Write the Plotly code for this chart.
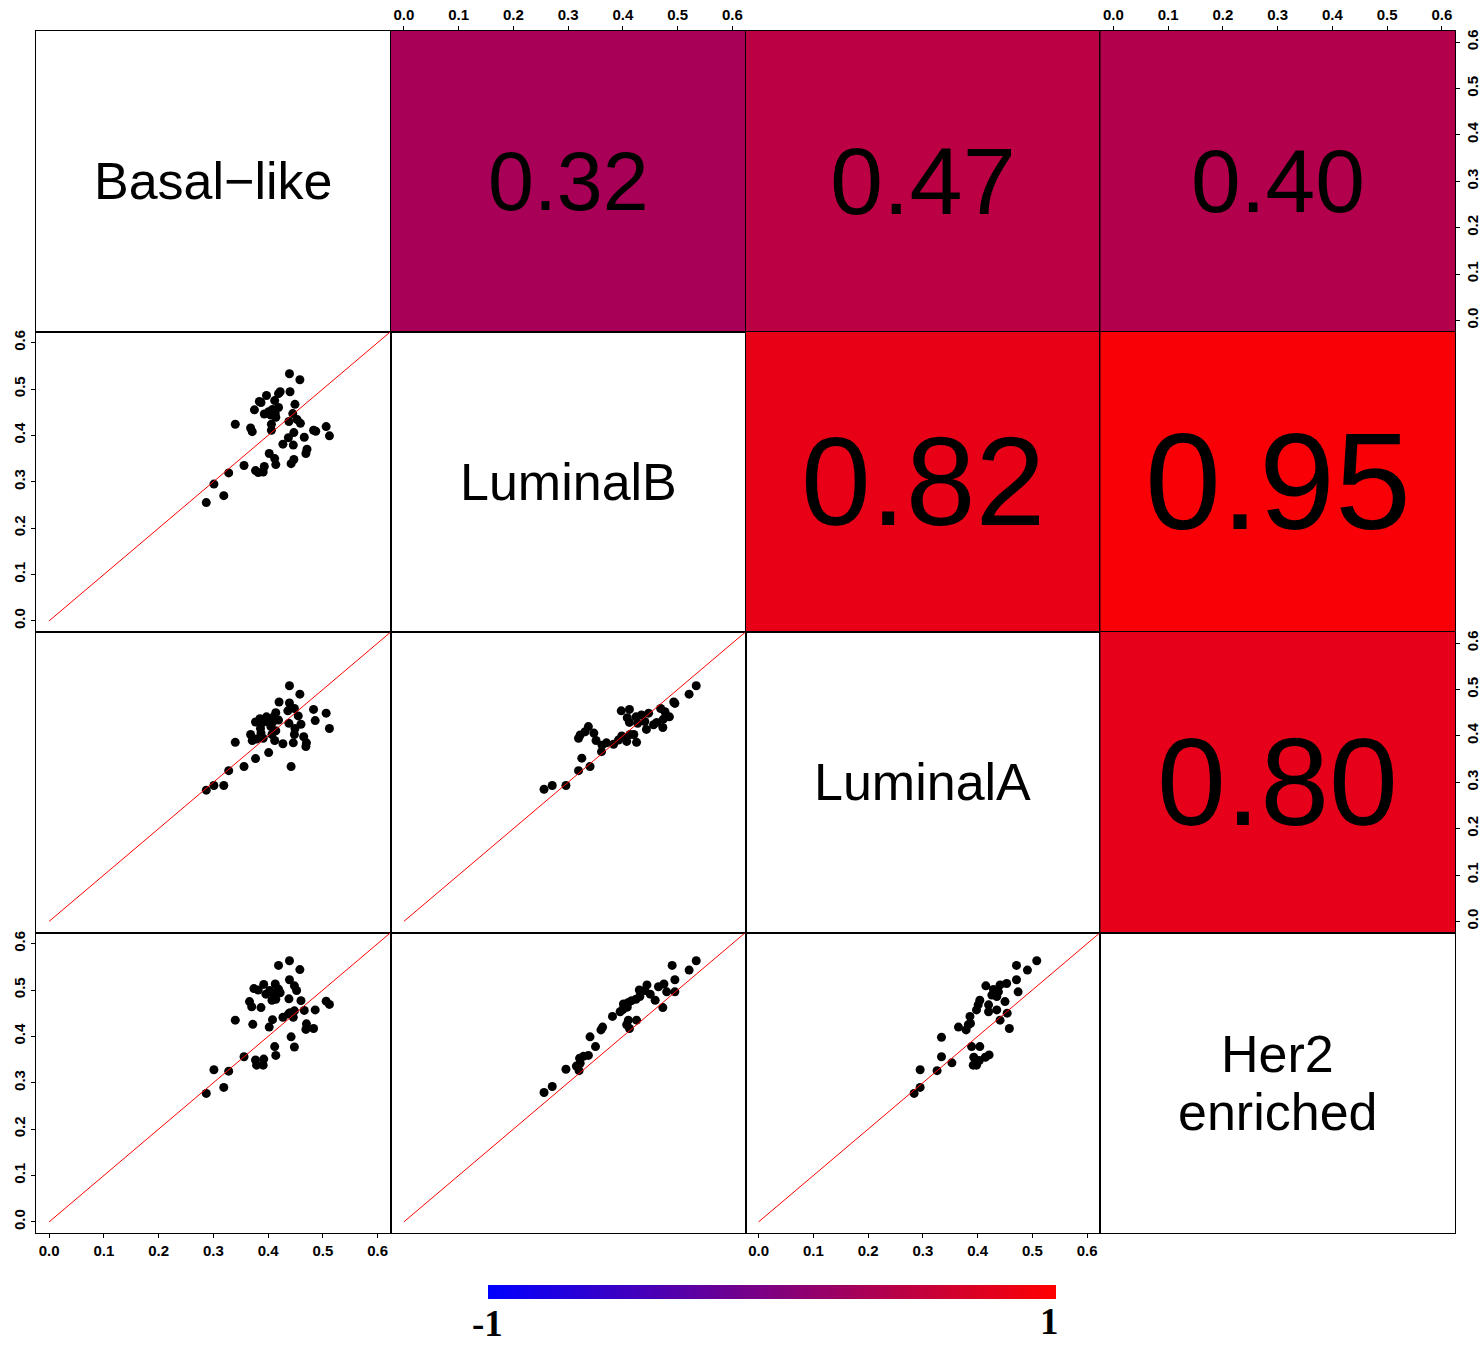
import plotly.graph_objects as go
from plotly.subplots import make_subplots

# ---- data ---------------------------------------------------------------
subtypes = ["Basal\u2212like", "LuminalB", "LuminalA", "Her2\nenriched"]

# Pearson correlations shown in the upper triangle (row, col)
cor_pairs = [(0, 1), (0, 2), (0, 3), (1, 2), (1, 3), (2, 3)]
cor_values = [0.32, 0.47, 0.40, 0.82, 0.95, 0.80]

tick_values = [0.0, 0.1, 0.2, 0.3, 0.4, 0.5, 0.6]
tick_labels = ["0.0", "0.1", "0.2", "0.3", "0.4", "0.5", "0.6"]
color_limits = [-1, 1]
color_labels = ["-1", "1"]

# LuminalB (y) against Basal-like (x)
lumB_vs_basal_x = [0.439, 0.458, 0.397, 0.422, 0.440, 0.419, 0.384, 0.387, 0.412, 0.449,
                   0.375, 0.393, 0.401, 0.408, 0.419, 0.413, 0.414, 0.445, 0.405, 0.340,
                   0.406, 0.438, 0.453, 0.459, 0.368, 0.371, 0.406, 0.506, 0.483, 0.487,
                   0.512, 0.447, 0.466, 0.437, 0.427, 0.446, 0.471, 0.469, 0.402, 0.412,
                   0.414, 0.442, 0.447, 0.356, 0.377, 0.393, 0.382, 0.391, 0.328, 0.301,
                   0.319, 0.287]
lumB_vs_basal_y = [0.533, 0.520, 0.486, 0.494, 0.494, 0.490, 0.473, 0.471, 0.475, 0.467,
                   0.455, 0.446, 0.451, 0.456, 0.460, 0.447, 0.439, 0.447, 0.444, 0.424,
                   0.424, 0.430, 0.434, 0.426, 0.416, 0.408, 0.411, 0.419, 0.411, 0.409,
                   0.399, 0.406, 0.396, 0.395, 0.381, 0.379, 0.370, 0.361, 0.361, 0.350,
                   0.337, 0.339, 0.348, 0.335, 0.324, 0.333, 0.320, 0.321, 0.319, 0.295,
                   0.270, 0.255]

# LuminalA (y) against Basal-like (x)
lumA_vs_basal_x = [0.439, 0.458, 0.420, 0.439, 0.448, 0.436, 0.414, 0.410, 0.397, 0.385,
                   0.377, 0.388, 0.396, 0.408, 0.419, 0.455, 0.483, 0.506, 0.486, 0.512,
                   0.438, 0.460, 0.449, 0.386, 0.405, 0.414, 0.407, 0.368, 0.371, 0.379,
                   0.391, 0.387, 0.340, 0.412, 0.427, 0.446, 0.465, 0.470, 0.469, 0.448,
                   0.401, 0.377, 0.356, 0.442, 0.328, 0.319, 0.301, 0.287]
lumA_vs_basal_y = [0.508, 0.490, 0.473, 0.471, 0.459, 0.454, 0.450, 0.441, 0.441, 0.437,
                   0.430, 0.427, 0.431, 0.429, 0.434, 0.443, 0.457, 0.449, 0.433, 0.416,
                   0.427, 0.425, 0.416, 0.416, 0.420, 0.411, 0.403, 0.403, 0.390, 0.393,
                   0.395, 0.406, 0.386, 0.390, 0.383, 0.385, 0.398, 0.385, 0.377, 0.403,
                   0.364, 0.351, 0.334, 0.334, 0.325, 0.293, 0.293, 0.283]

# LuminalA (y) against LuminalB (x)
lumA_vs_lumB_x = [0.534, 0.521, 0.493, 0.495, 0.397, 0.412, 0.469, 0.477, 0.447, 0.434,
                  0.424, 0.408, 0.485, 0.474, 0.440, 0.427, 0.412, 0.462, 0.456, 0.473,
                  0.443, 0.337, 0.331, 0.322, 0.319, 0.347, 0.351, 0.398, 0.413, 0.420,
                  0.407, 0.425, 0.392, 0.362, 0.370, 0.383, 0.361, 0.325, 0.340, 0.319,
                  0.296, 0.271, 0.256]
lumA_vs_lumB_y = [0.508, 0.490, 0.473, 0.470, 0.454, 0.457, 0.459, 0.452, 0.449, 0.445,
                  0.441, 0.439, 0.441, 0.436, 0.431, 0.427, 0.429, 0.429, 0.424, 0.418,
                  0.414, 0.420, 0.409, 0.402, 0.395, 0.406, 0.390, 0.400, 0.403, 0.403,
                  0.388, 0.386, 0.391, 0.380, 0.385, 0.382, 0.366, 0.352, 0.334, 0.325,
                  0.293, 0.293, 0.285]

# Her2 enriched (y) against Basal-like (x)
her2_vs_basal_x = [0.439, 0.419, 0.458, 0.439, 0.448, 0.452, 0.374, 0.382, 0.392, 0.413,
                   0.403, 0.419, 0.396, 0.410, 0.422, 0.407, 0.414, 0.438, 0.460, 0.366,
                   0.370, 0.387, 0.506, 0.512, 0.486, 0.466, 0.448, 0.440, 0.437, 0.427,
                   0.446, 0.340, 0.372, 0.408, 0.402, 0.470, 0.469, 0.483, 0.442, 0.448,
                   0.412, 0.414, 0.356, 0.377, 0.392, 0.379, 0.391, 0.328, 0.301, 0.319,
                   0.287]
her2_vs_basal_y = [0.563, 0.553, 0.544, 0.522, 0.509, 0.499, 0.503, 0.500, 0.512, 0.513,
                   0.499, 0.502, 0.491, 0.493, 0.494, 0.478, 0.480, 0.481, 0.477, 0.475,
                   0.464, 0.462, 0.476, 0.469, 0.457, 0.456, 0.455, 0.451, 0.448, 0.441,
                   0.441, 0.435, 0.426, 0.436, 0.420, 0.427, 0.415, 0.417, 0.399, 0.377,
                   0.378, 0.359, 0.356, 0.349, 0.351, 0.338, 0.338, 0.325, 0.328, 0.290,
                   0.277]

# Her2 enriched (y) against LuminalB (x)
her2_vs_lumB_x = [0.534, 0.490, 0.521, 0.495, 0.444, 0.475, 0.430, 0.440, 0.465, 0.480,
                  0.495, 0.450, 0.431, 0.424, 0.416, 0.410, 0.401, 0.459, 0.408, 0.400,
                  0.395, 0.473, 0.381, 0.410, 0.425, 0.407, 0.412, 0.363, 0.360, 0.340,
                  0.350, 0.337, 0.321, 0.322, 0.296, 0.320, 0.328, 0.315, 0.271, 0.256]
her2_vs_lumB_y = [0.563, 0.553, 0.543, 0.522, 0.511, 0.513, 0.500, 0.499, 0.507, 0.496,
                  0.496, 0.491, 0.486, 0.480, 0.477, 0.473, 0.470, 0.478, 0.463, 0.458,
                  0.453, 0.462, 0.443, 0.435, 0.435, 0.425, 0.417, 0.420, 0.414, 0.399,
                  0.378, 0.359, 0.353, 0.342, 0.329, 0.326, 0.357, 0.336, 0.292, 0.279]

# Her2 enriched (y) against LuminalA (x)
her2_vs_lumA_x = [0.508, 0.471, 0.491, 0.471, 0.415, 0.441, 0.453, 0.429, 0.438, 0.426,
                  0.435, 0.474, 0.404, 0.450, 0.401, 0.420, 0.398, 0.435, 0.420, 0.454,
                  0.386, 0.387, 0.383, 0.441, 0.365, 0.379, 0.458, 0.334, 0.389, 0.404,
                  0.421, 0.414, 0.334, 0.353, 0.393, 0.392, 0.398, 0.403, 0.295, 0.326,
                  0.295, 0.284]
her2_vs_lumA_y = [0.563, 0.553, 0.543, 0.522, 0.509, 0.511, 0.514, 0.501, 0.496, 0.489,
                  0.486, 0.496, 0.478, 0.475, 0.468, 0.468, 0.457, 0.457, 0.453, 0.450,
                  0.443, 0.428, 0.425, 0.435, 0.420, 0.414, 0.417, 0.398, 0.378, 0.378,
                  0.360, 0.355, 0.356, 0.343, 0.355, 0.338, 0.338, 0.348, 0.328, 0.326,
                  0.290, 0.277]

scatter_panels = [
    (1, 0, lumB_vs_basal_x, lumB_vs_basal_y),
    (2, 0, lumA_vs_basal_x, lumA_vs_basal_y),
    (2, 1, lumA_vs_lumB_x, lumA_vs_lumB_y),
    (3, 0, her2_vs_basal_x, her2_vs_basal_y),
    (3, 1, her2_vs_lumB_x, her2_vs_lumB_y),
    (3, 2, her2_vs_lumA_x, her2_vs_lumA_y),
]

# ---- figure -------------------------------------------------------------
n = len(subtypes)
axis_range = [-0.024, 0.624]
mid = 0.3
line_step = 0.125          # vertical distance between lines of a two-line name
blue_red = [[0.0, "rgb(0,0,255)"], [1.0, "rgb(255,0,0)"]]
sans = "Liberation Sans, Arial, Helvetica, sans-serif"
tick_font = dict(family=sans, size=15, color="black", weight="bold")

fig = make_subplots(rows=n, cols=n, horizontal_spacing=0, vertical_spacing=0)

# lower triangle: scatter with identity line
for r, c, xs, ys in scatter_panels:
    fig.add_trace(go.Scatter(x=xs, y=ys, mode="markers",
                             marker=dict(color="black", size=9, line=dict(width=0)),
                             hoverinfo="skip", showlegend=False), row=r + 1, col=c + 1)
    fig.add_trace(go.Scatter(x=[0, 1], y=[0, 1], mode="lines",
                             line=dict(color="red", width=1),
                             hoverinfo="skip", showlegend=False), row=r + 1, col=c + 1)

# upper triangle: correlation tiles coloured on a blue-red scale
for k, ((r, c), v) in enumerate(zip(cor_pairs, cor_values)):
    fig.add_trace(go.Heatmap(
        z=[[v]], x=axis_range, y=axis_range,
        zmin=color_limits[0], zmax=color_limits[1], colorscale=blue_red,
        showscale=(k == 0), hoverinfo="skip",
        colorbar=dict(orientation="h", lenmode="pixels", len=568,
                      thickness=14, x=0.5187, xanchor="center",
                      y=-0.0433, yanchor="top", outlinewidth=0,
                      xpad=0, ypad=0, showticklabels=False, ticks=""),
    ), row=r + 1, col=c + 1)
    fig.add_annotation(text=f"{v:.2f}", x=mid, y=mid, showarrow=False,
                       font=dict(family=sans, size=55 + 86 * v, color="black"),
                       row=r + 1, col=c + 1)

# diagonal: variable names (multi-line names stacked around the centre)
for i, name in enumerate(subtypes):
    parts = name.split("\n")
    for j, part in enumerate(parts):
        y = mid + line_step * ((len(parts) - 1) / 2 - j)
        fig.add_annotation(text=part, x=mid, y=y, showarrow=False,
                           font=dict(family=sans, size=52, color="black"),
                           row=i + 1, col=i + 1)

# plain framed axes everywhere
fig.update_xaxes(range=axis_range, showgrid=False, zeroline=False, showline=True,
                 mirror=True, linecolor="black", linewidth=1, ticks="",
                 showticklabels=False, fixedrange=True, automargin=False)
fig.update_yaxes(range=axis_range, showgrid=False, zeroline=False, showline=True,
                 mirror=True, linecolor="black", linewidth=1, ticks="",
                 showticklabels=False, fixedrange=True, automargin=False)

tick_style = dict(ticks="outside", ticklen=4, tickwidth=1, tickcolor="black",
                  showticklabels=True, tickvals=tick_values, ticktext=tick_labels,
                  tickfont=tick_font)

# alternating outer axes, as in a classic scatterplot matrix
for c in (0, 2):
    fig.update_xaxes(side="bottom", **tick_style, row=n, col=c + 1)
for c in (1, 3):
    fig.update_xaxes(side="top", **tick_style, row=1, col=c + 1)
for r in (1, 3):
    fig.update_yaxes(side="left", tickangle=-90, **tick_style, row=r + 1, col=1)
for r in (0, 2):
    fig.update_yaxes(side="right", tickangle=-90, **tick_style, row=r + 1, col=n)

# colour bar end labels
serif_bold = dict(family="Liberation Serif, Times New Roman, serif", size=37,
                  color="black", weight="bold")
fig.add_annotation(text=color_labels[0], x=0.3185, y=-0.0757, xref="paper", yref="paper",
                   showarrow=False, font=serif_bold, xanchor="center", yanchor="middle",
                   borderpad=0)
fig.add_annotation(text=color_labels[1], x=0.7139, y=-0.0740, xref="paper", yref="paper",
                   showarrow=False, font=serif_bold, xanchor="center", yanchor="middle",
                   borderpad=0)

fig.update_layout(width=1480, height=1347, autosize=False,
                  margin=dict(l=36, r=25, t=31, b=114, autoexpand=False),
                  paper_bgcolor="white", plot_bgcolor="white",
                  showlegend=False)

fig.write_html("out.html")
